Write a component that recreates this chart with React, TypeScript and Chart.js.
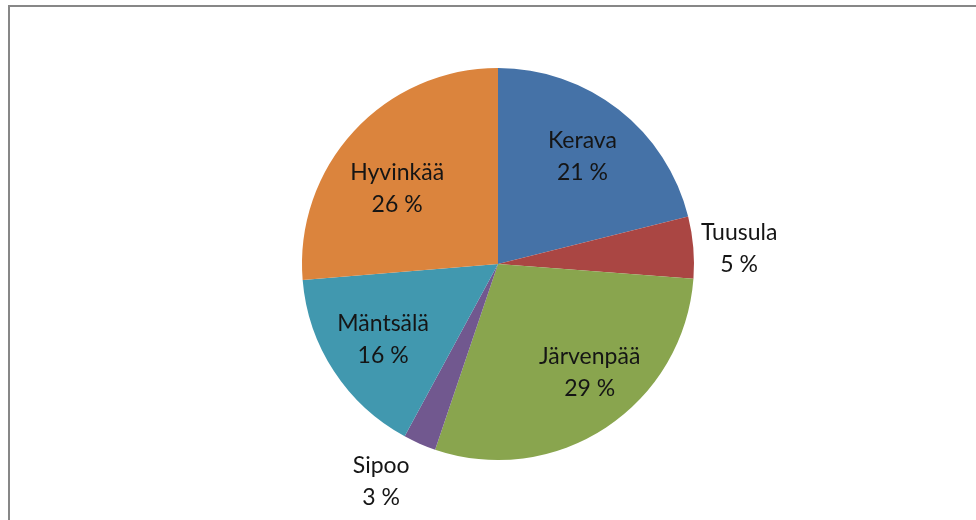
import React, { useEffect, useRef } from "react";
import { Chart, registerables } from "chart.js";

Chart.register(...registerables);

const categories = ["Kerava", "Tuusula", "Järvenpää", "Sipoo", "Mäntsälä", "Hyvinkää"];
const shares = [21.1, 5.1, 29.0, 2.7, 15.8, 26.3];
const colors = ["#4572A7", "#AA4643", "#89A54E", "#71588F", "#4198AF", "#DB843D"];
const outsideLabels = ["Tuusula", "Sipoo"];
// small label nudges (px) relative to computed anchor, mimicking Excel's placement
const labelNudge: Record<string, [number, number]> = {
  Hyvinkää: [0, 17],
  Järvenpää: [16, -6],
  Tuusula: [0, 5],
  Sipoo: [-20, -5],
};

const framePlugin = {
  id: "frame",
  beforeDraw(chart: any) {
    const ctx = chart.ctx;
    ctx.save();
    ctx.fillStyle = "#ffffff";
    ctx.fillRect(0, 0, chart.width, chart.height);
    ctx.fillStyle = "#878787";
    ctx.fillRect(8, 5, chart.width, 2);
    ctx.fillRect(8, 5, 2, chart.height);
    ctx.restore();
  },
};

const labelPlugin = {
  id: "pieLabels",
  afterDatasetsDraw(chart: any) {
    const ctx = chart.ctx;
    const meta = chart.getDatasetMeta(0);
    const data = chart.data.datasets[0].data as number[];
    ctx.save();
    ctx.font = "23px Lato";
    ctx.fillStyle = "#151515";
    ctx.textAlign = "center";
    ctx.textBaseline = "middle";
    meta.data.forEach((arc: any, i: number) => {
      const name = chart.data.labels[i] as string;
      const { x, y, startAngle, endAngle, outerRadius } = arc.getProps(
        ["x", "y", "startAngle", "endAngle", "outerRadius"],
        true
      );
      const mid = (startAngle + endAngle) / 2;
      const r = outsideLabels.includes(name) ? outerRadius + 46 : outerRadius * 0.7;
      const nudge = labelNudge[name] || [0, 0];
      const cx = x + Math.cos(mid) * r + nudge[0];
      const cy = y + Math.sin(mid) * r + nudge[1];
      ctx.fillText(name, cx, cy - 15.5);
      ctx.fillText(Math.round(data[i]) + " %", cx, cy + 16.5);
    });
    ctx.restore();
  },
};

export default function App() {
  const ref = useRef<HTMLCanvasElement | null>(null);
  useEffect(() => {
    document.body.style.margin = "0";
    const canvas = ref.current;
    if (!canvas) return;
    const chart = new Chart(canvas, {
      type: "pie",
      data: {
        labels: categories,
        datasets: [
          {
            data: shares,
            backgroundColor: colors,
            borderWidth: 0,
          },
        ],
      },
      options: {
        responsive: false,
        animation: false,
        layout: { padding: { top: 68, bottom: 60, left: 302, right: 282 } },
        plugins: {
          legend: { display: false },
          tooltip: { enabled: false },
        },
      },
      plugins: [framePlugin, labelPlugin],
    });
    return () => chart.destroy();
  }, []);
  return (
    <div style={{ width: 976, height: 520, position: "relative" }}>
      <canvas ref={ref} width={976} height={520} style={{ display: "block" }} />
    </div>
  );
}
